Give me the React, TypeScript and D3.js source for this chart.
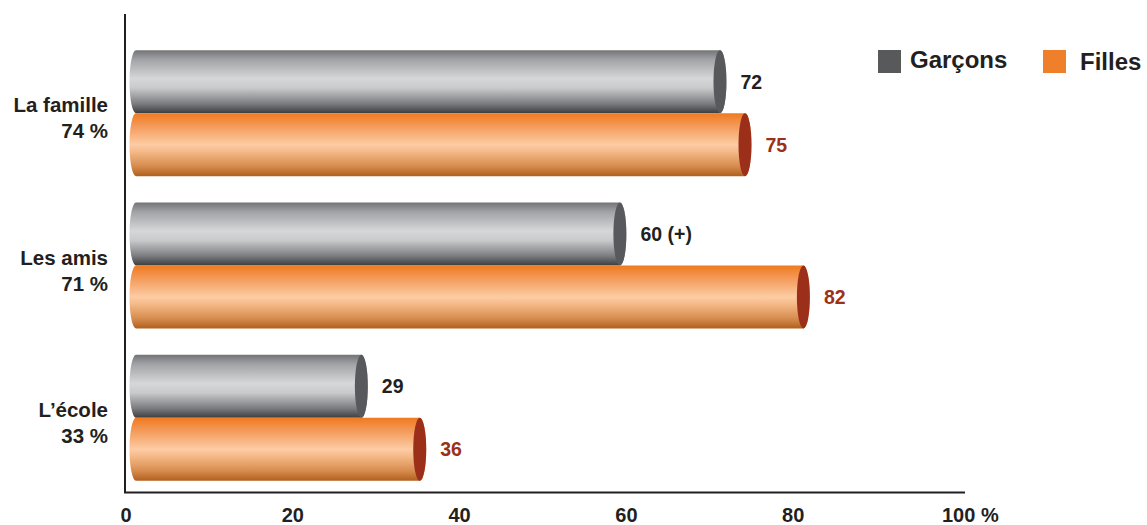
import React from "react";
import * as d3 from "d3";

const categories = ["La famille", "Les amis", "L’école"];
const categoryTotals = ["74 %", "71 %", "33 %"];
const garcons = [72, 60, 29];
const filles = [75, 82, 36];
const garconsLabels = ["72", "60 (+)", "29"];
const fillesLabels = ["75", "82", "36"];
const ticks = [0, 20, 40, 60, 80, 100];
const seriesNames = ["Garçons", "Filles"];

const W = 1147;
const H = 525;
const FONT = "'Liberation Sans', Arial, Helvetica, sans-serif";
const INK = "#231f20";
const RED = "#9b3119";

export default function App() {
  const x = d3.scaleLinear().domain([0, 100]).range([126, 960]);
  const y = d3.scaleBand<string>().domain(categories).range([37, 494]);
  const barH = 63;
  const rx = 6.5;
  const x0 = x(0) + 10;

  const cylinder = (v: number, top: number, fill: string, cap: string, key: string) => {
    const xr = x(v) - rx;
    const bottom = top + barH;
    const ry = barH / 2;
    const d = `M${x0},${top} L${xr},${top} A${rx},${ry} 0 0 1 ${xr},${bottom} L${x0},${bottom} A${rx},${ry} 0 0 1 ${x0},${top} Z`;
    return (
      <g key={key}>
        <path d={d} fill={fill} />
        <ellipse cx={xr} cy={top + ry} rx={rx} ry={ry} fill={cap} />
      </g>
    );
  };

  return (
    <svg width={W} height={H} style={{ position: "absolute", left: 0, top: 0, background: "#fff" }} fontFamily={FONT}>
      <defs>
        <linearGradient id="gGray" x1="0" y1="0" x2="0" y2="1">
          <stop offset="0" stopColor="#737477" />
          <stop offset="0.15" stopColor="#a2a3a6" />
          <stop offset="0.45" stopColor="#d6d7d9" />
          <stop offset="0.6" stopColor="#c9cacc" />
          <stop offset="0.85" stopColor="#7b7c7f" />
          <stop offset="1" stopColor="#3c3d3f" />
        </linearGradient>
        <linearGradient id="gOrange" x1="0" y1="0" x2="0" y2="1">
          <stop offset="0" stopColor="#f07a1f" />
          <stop offset="0.18" stopColor="#f39653" />
          <stop offset="0.5" stopColor="#fdcca4" />
          <stop offset="0.62" stopColor="#f4b886" />
          <stop offset="0.85" stopColor="#d58a4c" />
          <stop offset="1" stopColor="#b05f1c" />
        </linearGradient>
      </defs>

      {categories.map((c, i) => {
        const center = (y(c) as number) + y.bandwidth() / 2;
        return (
          <g key={c}>
            {cylinder(garcons[i], center - barH, "url(#gGray)", "#58595c", "g" + i)}
            {cylinder(filles[i], center, "url(#gOrange)", "#9b2f1a", "f" + i)}
            <text x={x(garcons[i]) + 14} y={center - barH / 2 + 7} fontSize={19.5} fontWeight="bold" fill={INK}>
              {garconsLabels[i]}
            </text>
            <text x={x(filles[i]) + 14} y={center + barH / 2 + 7} fontSize={19.5} fontWeight="bold" fill={RED}>
              {fillesLabels[i]}
            </text>
            <text x={108} y={center - 1} fontSize={20.5} fontWeight="bold" fill={INK} textAnchor="end">
              {c}
            </text>
            <text x={108} y={center + 25} fontSize={20.5} fontWeight="bold" fill={INK} textAnchor="end">
              {categoryTotals[i]}
            </text>
          </g>
        );
      })}

      {/* axes */}
      <line x1={125} y1={14} x2={125} y2={493} stroke={INK} strokeWidth={2} />
      <line x1={124} y1={492.5} x2={965} y2={492.5} stroke={INK} strokeWidth={2} />
      {ticks.map((t) => (
        <text key={t} x={x(t)} y={522} fontSize={20} fontWeight="bold" fill={INK} textAnchor={t === 100 ? "start" : "middle"} dx={t === 100 ? -18 : 0}>
          {t === 100 ? "100 %" : String(t)}
        </text>
      ))}

      {/* legend */}
      <rect x={878} y={50} width={23} height={23} fill="#58595b" />
      <text x={910} y={68} fontSize={24} fontWeight="bold" fill={INK}>{seriesNames[0]}</text>
      <rect x={1043} y={50} width={23} height={23} fill="#f07f2c" />
      <text x={1080} y={70} fontSize={24} fontWeight="bold" fill={INK}>{seriesNames[1]}</text>
    </svg>
  );
}
